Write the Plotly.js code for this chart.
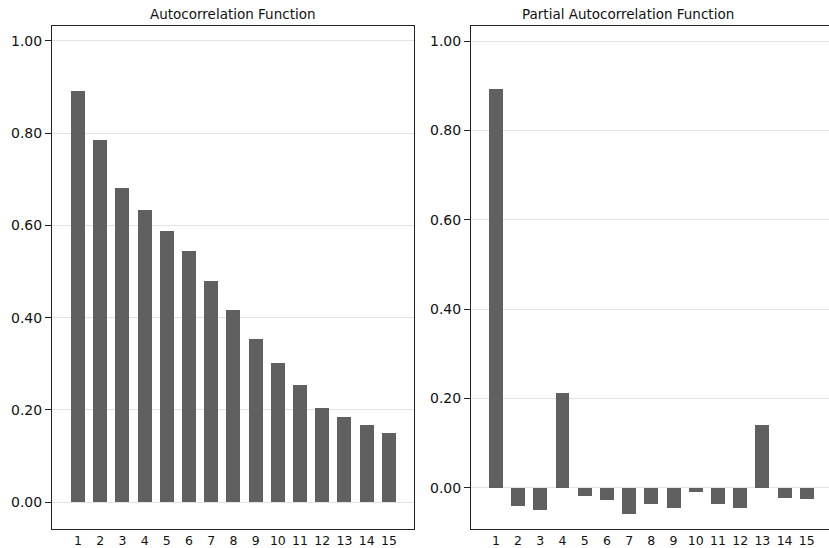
<!DOCTYPE html>
<html>
<head>
<meta charset="utf-8">
<script src="https://cdn.plot.ly/plotly-3.0.1.min.js"></script>
<style>html,body{margin:0;padding:0;background:#fff;}#chart{width:829px;height:548px;}</style>
</head>
<body>
<div id="chart"></div>
<script>
const lags = [1,2,3,4,5,6,7,8,9,10,11,12,13,14,15];
const acfValues = [0.891,0.785,0.681,0.633,0.588,0.545,0.480,0.417,0.353,0.302,0.253,0.204,0.185,0.167,0.150];
const pacfValues = [0.892,-0.040,-0.049,0.212,-0.018,-0.027,-0.058,-0.035,-0.044,-0.009,-0.035,-0.044,0.141,-0.022,-0.024];
const yTickVals = [0,0.2,0.4,0.6,0.8,1.0];
const titles = ["Autocorrelation Function","Partial Autocorrelation Function"];

const barColor = '#606060';
const fam = '"DejaVu Sans", Arial, sans-serif';
const yFont = {family:fam, size:14, color:'#111'};
const xFont = {family:fam, size:12.5, color:'#111'};

const traces = [
  {type:'bar', x:lags, y:acfValues, xaxis:'x', yaxis:'y', marker:{color:barColor}, width:0.63, hoverinfo:'x+y'},
  {type:'bar', x:lags, y:pacfValues, xaxis:'x2', yaxis:'y2', marker:{color:barColor}, width:0.63, hoverinfo:'x+y'}
];

const xCommon = {tickmode:'array', tickvals:lags, ticktext:lags.map(String), showgrid:false, zeroline:false,
  showline:true, linecolor:'#222', linewidth:1, ticks:'', tickfont:xFont, fixedrange:true};
const yCommon = {tickmode:'array', tickvals:yTickVals, ticktext:yTickVals.map(v=>v.toFixed(2)),
  showgrid:true, gridcolor:'#e2e2e2', gridwidth:1, zeroline:false, showline:true, linecolor:'#222', linewidth:1,
  ticks:'outside', ticklen:6, tickcolor:'#222', tickfont:yFont, fixedrange:true};

const layout = {
  width:829, height:548, margin:{l:0,r:0,t:0,b:0},
  paper_bgcolor:'#fff', plot_bgcolor:'#fff', showlegend:false, bargap:0,
  font:yFont,
  xaxis: Object.assign({}, xCommon, {domain:[52/829, 414/829], range:[-0.17,16.13], mirror:true, anchor:'y'}),
  yaxis: Object.assign({}, yCommon, {domain:[19/548, 522/548], range:[-0.058,1.032], mirror:true, anchor:'x'}),
  xaxis2: Object.assign({}, xCommon, {domain:[471/829, 1], range:[-0.12,16.0], mirror:true, anchor:'y2'}),
  yaxis2: Object.assign({}, yCommon, {domain:[19/548, 522/548], range:[-0.092,1.034], anchor:'x2'}),
  annotations:[
    {text:titles[0], xref:'paper', yref:'paper', x:(52+414)/2/829, y:1-14/548, xanchor:'center', yanchor:'middle', showarrow:false, font:{family:fam, size:13.5, color:'#111'}},
    {text:titles[1], xref:'paper', yref:'paper', x:(471+829)/2/829 - 0.027, y:1-14/548, xanchor:'center', yanchor:'middle', showarrow:false, font:{family:fam, size:13.5, color:'#111'}}
  ]
};

Plotly.newPlot('chart', traces, layout, {displayModeBar:false, staticPlot:true});
</script>
</body>
</html>
